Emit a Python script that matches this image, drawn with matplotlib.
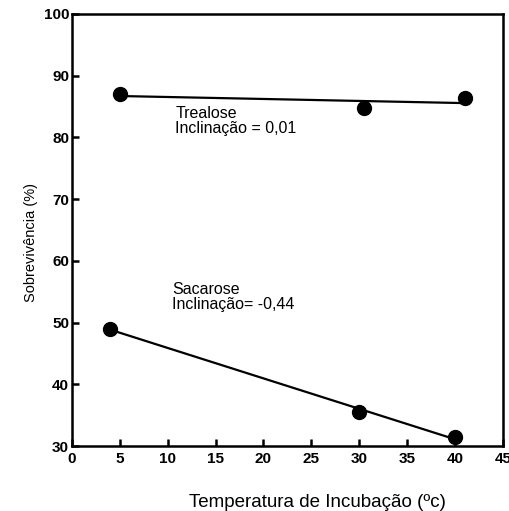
import numpy as np
import matplotlib.pyplot as plt

# dados
temp_trealose = [5, 30.5, 41]
surv_trealose = [87, 84.8, 86.3]
temp_sacarose = [4, 30, 40]
surv_sacarose = [49, 35.5, 31.5]

x_ticks = [0, 5, 10, 15, 20, 25, 30, 35, 40, 45]
y_ticks = [30, 40, 50, 60, 70, 80, 90, 100]

plt.rcParams['font.family'] = ['Liberation Sans', 'DejaVu Sans']

fig = plt.figure(figsize=(5.1, 5.11), dpi=100)
ax = fig.add_axes([0.141, 0.127, 0.845, 0.846])

for xs, ys in [(temp_trealose, surv_trealose), (temp_sacarose, surv_sacarose)]:
    # reta ajustada entre o primeiro e o último ponto
    k, b = np.polyfit(xs, ys, 1)
    xr = np.array([min(xs), max(xs)])
    ax.plot(xr, k * xr + b, color='black', lw=1.6)
    ax.plot(xs, ys, 'o', color='black', ms=10)

ax.text(10.8, 85.0, "Trealose\nInclinação = 0,01", fontsize=11.5, va='top',
        linespacing=1.0)
ax.text(10.5, 56.5, "Sacarose\nInclinação= -0,44", fontsize=11.5, va='top',
        linespacing=1.0)

ax.set_xlim(0, 45)
ax.set_ylim(30, 100)
ax.set_xticks(x_ticks)
ax.set_yticks(y_ticks)
ax.tick_params(direction='in', length=5, width=1.8, labelsize=11)
ax.tick_params(axis='x', pad=4)
ax.tick_params(axis='y', pad=2)
for lbl in ax.get_xticklabels() + ax.get_yticklabels():
    lbl.set_fontweight('bold')
for s in ax.spines.values():
    s.set_linewidth(1.8)

ax.set_xlabel("Temperatura de Incubação (ºc)", fontsize=13.5)
ax.xaxis.set_label_coords(0.57, -0.11)
ax.set_ylabel("Sobrevivência (%)", fontsize=10.5)
ax.yaxis.set_label_coords(-0.079, 0.47)

fig.savefig("out.png", dpi=100)
